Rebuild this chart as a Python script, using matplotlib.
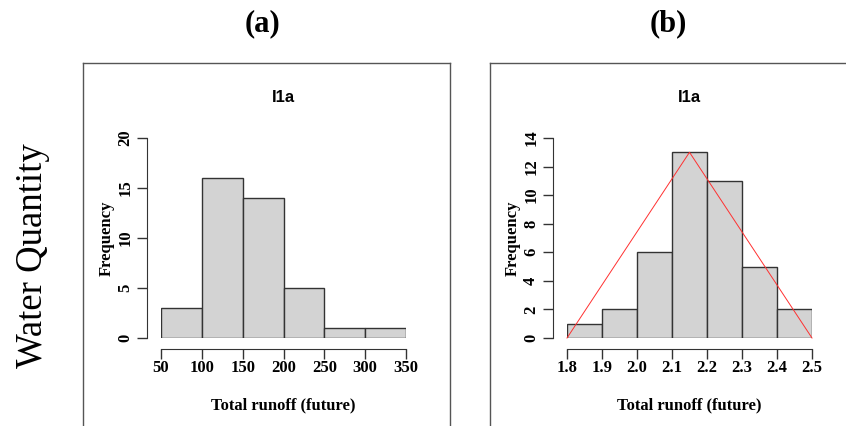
import matplotlib.pyplot as plt
from matplotlib.lines import Line2D

# histogram data
edges_a = [50, 100, 150, 200, 250, 300, 350]
counts_a = [3, 16, 14, 5, 1, 1]
edges_b = [1.8, 1.9, 2.0, 2.1, 2.2, 2.3, 2.4, 2.5]
counts_b = [1, 2, 6, 13, 11, 5, 2]
tri_x = [1.8, 2.15, 2.5]
tri_y = [0, 13, 0]

W, H = 846, 426
fig = plt.figure(figsize=(W / 100, H / 100), dpi=100)

serif = ['Liberation Serif', 'DejaVu Serif']
sans = ['Liberation Sans', 'DejaVu Sans']


def px(x0, y0, x1, y1):
    # pixel box -> figure fraction rect
    return [x0 / W, 1 - y1 / H, (x1 - x0) / W, (y1 - y0) / H]


def r_hist(ax, edges, counts, yticks, xticks, xtl):
    widths = [edges[i + 1] - edges[i] for i in range(len(counts))]
    ax.bar(edges[:-1], counts, width=widths, align='edge',
           color='#d3d3d3', edgecolor='#333333', linewidth=1.0)
    ax.set_xlim(edges[0], edges[-1])
    ax.set_ylim(yticks[0], yticks[-1])
    for s in ['top', 'right']:
        ax.spines[s].set_visible(False)
    ax.spines['left'].set_position(('outward', 10))
    ax.spines['bottom'].set_position(('outward', 8))
    ax.spines['left'].set_bounds(yticks[0], yticks[-1])
    ax.spines['bottom'].set_bounds(xticks[0], xticks[-1])
    for s in ['left', 'bottom']:
        ax.spines[s].set_color('#333333')
    ax.set_yticks(yticks)
    ax.set_yticklabels([str(v) for v in yticks], rotation=90, va='center',
                       family=serif, fontweight='bold', fontsize=12)
    ax.set_xticks(xticks)
    ax.set_xticklabels(xtl, family=serif, fontweight='bold', fontsize=12)
    ax.tick_params(length=7, width=1, color='#333333')
    ax.tick_params(axis='x', pad=1)
    ax.tick_params(axis='y', pad=3)
    ax.set_xlabel('Total runoff (future)', family=serif, fontweight='bold',
                  fontsize=12, labelpad=15)
    ax.set_ylabel('Frequency', family=serif, fontweight='bold', fontsize=12,
                  labelpad=2)
    ax.set_title('I1a', family=sans, fontweight='bold', fontsize=12, pad=26)


ax1 = fig.add_axes(px(161, 138, 406, 338))
r_hist(ax1, edges_a, counts_a, [0, 5, 10, 15, 20], edges_a,
       [str(v) for v in edges_a])

ax2 = fig.add_axes(px(567, 138, 812, 338))
r_hist(ax2, edges_b, counts_b, [0, 2, 4, 6, 8, 10, 12, 14], edges_b,
       ['%.1f' % v for v in edges_b])
ax2.plot(tri_x, tri_y, color='#ff3030', linewidth=0.7, clip_on=False)

# panel frames
def frame(x0, y0, x1):
    kw = dict(color='#555555', linewidth=1.0, transform=fig.transFigure)
    fig.add_artist(Line2D([x0 / W, x0 / W], [1 - y0 / H, 0], **kw))
    fig.add_artist(Line2D([x0 / W, x1 / W], [1 - y0 / H, 1 - y0 / H], **kw))
    fig.add_artist(Line2D([x1 / W, x1 / W], [1 - y0 / H, 0], **kw))

frame(83, 63, 450)
frame(490, 63, 850)

fig.text(262 / W, 1 - 24 / H, '(a)', family=serif, fontweight='bold',
         fontsize=22, ha='center', va='center')
fig.text(668 / W, 1 - 24 / H, '(b)', family=serif, fontweight='bold',
         fontsize=22, ha='center', va='center')
fig.text(33 / W, 1 - 256 / H, 'Water Quantity', family=serif, fontsize=26.5,
         rotation=90, ha='center', va='center')

fig.savefig('out.png', dpi=100)
